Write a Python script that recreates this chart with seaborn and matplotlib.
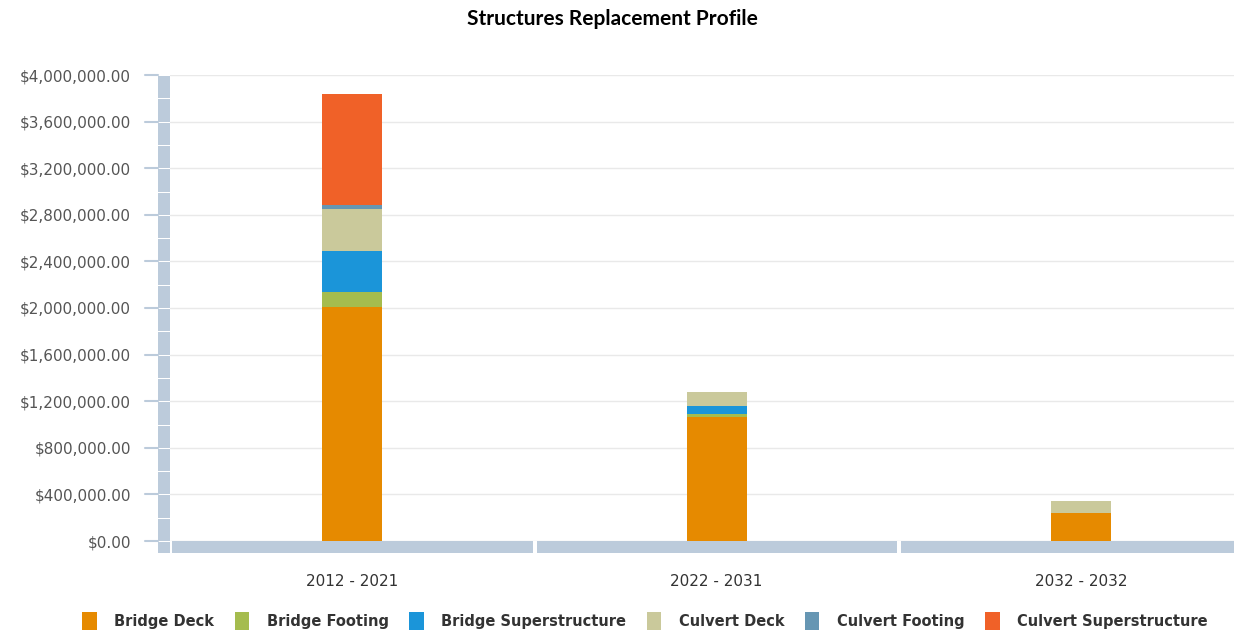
import numpy as np
import pandas as pd
import matplotlib
matplotlib.use("Agg")
import matplotlib.pyplot as plt
import seaborn as sns
from matplotlib.patches import Patch, Rectangle

# DATA
periods = ["2012 - 2021", "2022 - 2031", "2032 - 2032"]
series = ["Bridge Deck", "Bridge Footing", "Bridge Superstructure",
          "Culvert Deck", "Culvert Footing", "Culvert Superstructure"]
bridge_deck = [2010000, 1067000, 238000]
bridge_footing = [127000, 26000, 0]
bridge_super = [352000, 66000, 0]
culvert_deck = [363000, 120000, 103000]
culvert_footing = [30000, 0, 0]
culvert_super = [958000, 0, 0]
colors = ["#e68a00", "#a5bc4e", "#1b95d9", "#cac99b", "#6696b3", "#f06128"]
y_ticks = np.arange(0, 4000001, 400000)

values = [bridge_deck, bridge_footing, bridge_super,
          culvert_deck, culvert_footing, culvert_super]

# CONFIG
sns.set_theme(style="white")
plt.rcParams["font.family"] = ["DejaVu Sans"]

fig = plt.figure(figsize=(12.34, 6.33), dpi=100)
W, H = 1234, 633
ax = fig.add_axes([170 / W, (H - 541) / H, (W - 170) / W, (541 - 75) / H])

# stacked bars: draw cumulative totals from the top layer down
cum = np.cumsum(np.array(values), axis=0)
for i in reversed(range(len(series))):
    df = pd.DataFrame({"period": periods, "value": cum[i]})
    sns.barplot(data=df, x="period", y="value", color=colors[i],
                width=0.165, saturation=1, linewidth=0, ax=ax, zorder=3)

ax.set_xlim(-0.5, 2.42)
ax.set_ylim(0, 4000000)
ax.set_yticks(y_ticks)
ax.set_yticklabels([f"${v:,.2f}" for v in y_ticks], color="#555555",
                   fontsize=11, family="DejaVu Sans")
ax.tick_params(axis="y", length=0, pad=28)
ax.set_xticks(range(len(periods)))
ax.set_xticklabels(periods, fontsize=11, color="#333333", family="DejaVu Sans")
ax.tick_params(axis="x", length=0, pad=24)
ax.set_xlabel("")
ax.set_ylabel("")
ax.yaxis.grid(True, color="#e9e9e9", linewidth=1, zorder=0)
ax.set_axisbelow(True)
for s in ax.spines.values():
    s.set_visible(False)

# axis bars (decorative frame)
axis_col = "#bccbdb"
px = lambda x, y: ax.transAxes.inverted().transform(fig.transFigure.transform((x / W, (H - y) / H)))
# left bar, split into segments every 200k
seg_px = 466 / 20
for k in range(21):
    top = 75 + k * seg_px + 1
    bot = 553 if k == 20 else 75 + (k + 1) * seg_px
    x0, y0 = px(158, bot)
    x1, y1 = px(170, top)
    ax.add_patch(Rectangle((x0, y0), x1 - x0, y1 - y0, transform=ax.transAxes,
                           color=axis_col, clip_on=False, lw=0))
for k in range(11):
    yy = 75 + k * 466 / 10
    x0, y0 = px(145, yy)
    x1, y1 = px(158, yy)
    ax.plot([x0, x1], [y0, y0], transform=ax.transAxes, color=axis_col, lw=1.5, clip_on=False)
# bottom bar, one segment per period
for xs, xe in [(172, 533), (537, 897), (901, 1234)]:
    x0, y0 = px(xs, 553)
    x1, y1 = px(xe, 541)
    ax.add_patch(Rectangle((x0, y0), x1 - x0, y1 - y0, transform=ax.transAxes,
                           color=axis_col, clip_on=False, lw=0))

fig.text(612 / W, 1 - 19 / H, "Structures Replacement Profile", ha="center", va="center",
         fontsize=15, fontweight="bold", family="Lato", color="#000000")

handles = [Patch(facecolor=c, edgecolor="none") for c in colors]
fig.legend(handles, series, loc="center", bbox_to_anchor=(645 / W, 1 - 621 / H), ncol=6,
           frameon=False, handlelength=1.0, handleheight=1.6, handletextpad=1.2,
           columnspacing=1.4, prop={"weight": "bold", "size": 10.5, "family": "DejaVu Sans"},
           labelcolor="#333333")

fig.savefig("out.png", dpi=100)
